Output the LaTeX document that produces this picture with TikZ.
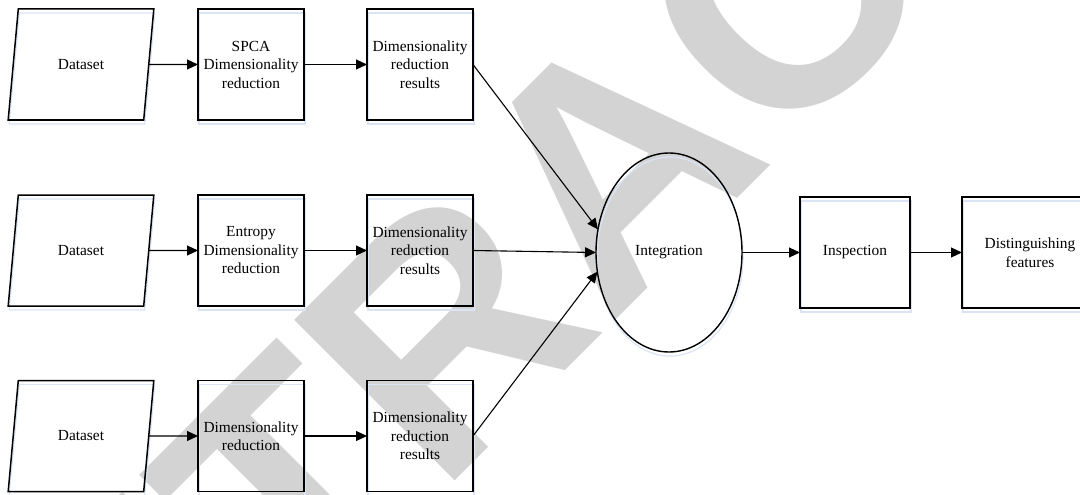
\documentclass[tikz,border=0pt]{standalone}
\usepackage{fontspec}
\setmainfont{Liberation Serif}
\newfontfamily\stampfont{Liberation Sans}
\usetikzlibrary{shapes.geometric,arrows.meta,shadows}
\definecolor{stampgrey}{RGB}{211,211,211}
\definecolor{edgeshade}{RGB}{218,228,245}

\begin{document}
\begin{tikzpicture}[x=1pt,y=-1pt,
  every node/.style={font=\fontsize{15.4}{18.5}\selectfont, align=center,
    inner sep=0pt, outer sep=0pt},
  softshadow/.style={drop shadow={fill=none, draw=edgeshade, line width=1.2pt,
    opacity=1, shadow xshift=1pt, shadow yshift=-4pt}},
  datanode/.style={trapezium, trapezium left angle=70, trapezium right angle=110,
    trapezium stretches=true, minimum width=146pt, minimum height=111pt,
    draw, line width=1.5pt, softshadow},
  procbox/.style={rectangle, draw, line width=1.6pt, minimum width=106pt,
    minimum height=111pt, softshadow},
  joinnode/.style={ellipse, draw, line width=1.4pt, minimum width=146pt,
    minimum height=199pt, softshadow},
  link/.style={line width=1.1pt, -{Triangle[length=11pt,width=10pt]}}]

\useasboundingbox (0,0) rectangle (1080,495);

% stamp lettering behind the chart
\begin{scope}
  \clip (0,0) rectangle (1080,495);
  \node[text=stampgrey, font=\stampfont\bfseries\fontsize{330}{330}\selectfont,
    rotate=45, anchor=base west] (stamp) at (-27,963) {RETRACTED};
\end{scope}

% row 1
\node[datanode] (d1) at (81,64.5) {Dataset};
\node[procbox]  (p1) at (251,64.5) {SPCA\\Dimensionality\\reduction};
\node[procbox]  (r1) at (420,64.5) {Dimensionality\\reduction\\results};
% row 2
\node[datanode] (d2) at (81,250.5) {Dataset};
\node[procbox]  (p2) at (251,250.5) {Entropy\\Dimensionality\\reduction};
\node[procbox]  (r2) at (420,250.5) {Dimensionality\\reduction\\results};
% row 3
\node[datanode] (d3) at (81,436) {Dataset};
\node[procbox]  (p3) at (251,436) {Dimensionality\\reduction};
\node[procbox]  (r3) at (420,436) {Dimensionality\\reduction\\results};
% merge and output
\node[joinnode] (ig) at (669,252.5) {Integration};
\node[procbox, minimum width=110pt] (insp) at (855,252.5) {Inspection};
\node[procbox, minimum width=136pt] (dist) at (1030,252.5) {Distinguishing\\features};

% connectors
\draw[link] (d1.east) -- (p1.west);
\draw[link] (p1.east) -- (r1.west);
\draw[link] (d2.east) -- (p2.west);
\draw[link] (p2.east) -- (r2.west);
\draw[link] (d3.east) -- (p3.west);
\draw[link] (p3.east) -- (r3.west);
\draw[link] (r1.east) -- (ig.162);
\draw[link] (r2.east) -- (ig.west);
\draw[link] (r3.east) -- (ig.195);
\draw[link] (ig.east) -- (insp.west);
\draw[link] (insp.east) -- (dist.west);
\end{tikzpicture}
\end{document}
